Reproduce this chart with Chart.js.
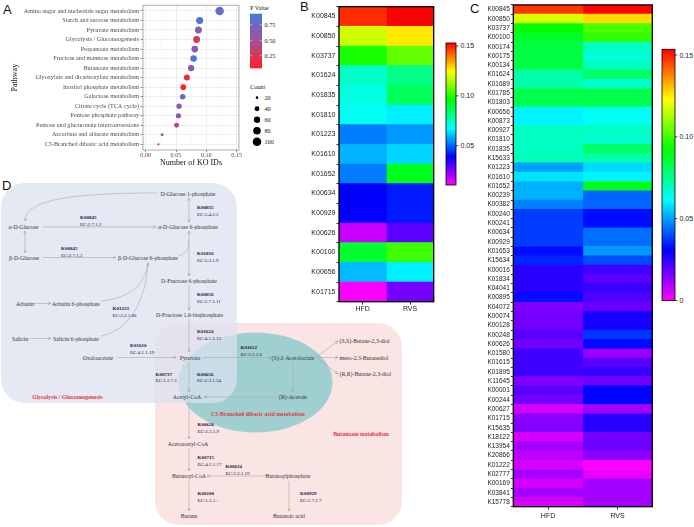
<!DOCTYPE html>
<html><head><meta charset="utf-8">
<script src="https://cdn.jsdelivr.net/npm/chart.js@4.4.1/dist/chart.umd.min.js"></script>
<style>
html,body{margin:0;padding:0;background:#fff;width:694px;height:527px;overflow:hidden;}
.box{position:absolute;z-index:1;}
#svg{position:absolute;left:0;top:0;z-index:0;}
.pl{font-family:"Liberation Sans",Arial,sans-serif;font-size:13px;fill:#111;}
.c{font-family:"Liberation Serif","Times New Roman",serif;font-size:5.8px;fill:#333;text-anchor:middle;dominant-baseline:central;}
.cl{font-family:"Liberation Serif","Times New Roman",serif;font-size:5.8px;fill:#333;dominant-baseline:central;}
.k{font-family:"Liberation Serif","Times New Roman",serif;font-size:5px;font-weight:bold;fill:#16163e;dominant-baseline:central;}
.e{font-family:"Liberation Serif","Times New Roman",serif;font-size:5px;fill:#16163e;dominant-baseline:central;}
.r{font-family:"Liberation Serif","Times New Roman",serif;font-size:5.8px;font-weight:bold;fill:#e8323c;text-anchor:middle;dominant-baseline:central;}
.ln{fill:none;stroke:#a9a9a9;stroke-width:0.6;}
.lg{font-family:"Liberation Serif","Times New Roman",serif;font-size:6.2px;fill:#222;dominant-baseline:central;}
.cb{font-family:"Liberation Sans",Arial,sans-serif;font-size:7px;fill:#222;dominant-baseline:central;}
</style></head><body>
<svg id="svg" width="694" height="527" xmlns="http://www.w3.org/2000/svg">
<defs>
<marker id="ah" markerWidth="4" markerHeight="4" refX="3.4" refY="2" orient="auto-start-reverse" markerUnits="userSpaceOnUse">
<path d="M0.3,0.6 L3.4,2 L0.3,3.4" fill="none" stroke="#999" stroke-width="0.5"/></marker>
<linearGradient id="gp" x1="0" y1="0" x2="0" y2="1"><stop offset="0" stop-color="#4a78da"/><stop offset="0.5" stop-color="#a44f9a"/><stop offset="1" stop-color="#ff2020"/></linearGradient>
<linearGradient id="grb" x1="0" y1="0" x2="0" y2="1"><stop offset="0" stop-color="#ff0000"/><stop offset="0.2" stop-color="#ffff00"/><stop offset="0.4" stop-color="#00ff00"/><stop offset="0.6" stop-color="#00ffff"/><stop offset="0.8" stop-color="#0000ff"/><stop offset="1" stop-color="#ff00ff"/></linearGradient>
</defs>
<!-- Panel letters -->
<text class="pl" x="3" y="14">A</text>
<text class="pl" x="300" y="11">B</text>
<text class="pl" x="470" y="13">C</text>
<text class="pl" x="2" y="190">D</text>

<!-- Panel D backgrounds -->
<rect x="155" y="323" width="247" height="202" rx="24" fill="#fbe4e4"/>
<ellipse cx="255.5" cy="382.5" rx="77" ry="50" fill="#9fd0cf"/>
<rect x="1" y="183" width="236" height="220" rx="24" fill="#dbe1f0" opacity="0.72"/>

<!-- lines -->
<path class="ln" d="M157,193 C70,193 25,200 25,221" marker-end="url(#ah)"/>
<path class="ln" d="M43,227 L156,227" marker-end="url(#ah)"/>
<path class="ln" d="M25,231 L25,253" marker-start="url(#ah)" marker-end="url(#ah)"/>
<path class="ln" d="M43,257.5 L116,257.5" marker-end="url(#ah)"/>
<path class="ln" d="M179,256 C186,254 189,249 189,240"/>
<path class="ln" d="M189,198 L189,222" marker-start="url(#ah)" marker-end="url(#ah)"/>
<path class="ln" d="M189,231 L189,276" marker-start="url(#ah)" marker-end="url(#ah)"/>
<path class="ln" d="M189,285 L189,310" marker-end="url(#ah)"/>
<path class="ln" d="M189,319 L189,352" marker-end="url(#ah)"/>
<path class="ln" d="M33,303.5 L51,303.5" marker-end="url(#ah)"/>
<path class="ln" d="M29,338.5 L51,338.5" marker-end="url(#ah)"/>
<path class="ln" d="M101,301 C130,298 145,285 148,263" marker-end="url(#ah)"/>
<path class="ln" d="M101,336 C130,330 146,300 148,263"/>
<path class="ln" d="M117,357.5 L176,357.5" marker-end="url(#ah)"/>
<path class="ln" d="M203,357.5 L271,357.5" marker-end="url(#ah)"/>
<path class="ln" d="M316,357.5 L338,341" marker-end="url(#ah)"/>
<path class="ln" d="M316,357.5 L338,357.5" marker-end="url(#ah)"/>
<path class="ln" d="M316,357.5 L338,374" marker-end="url(#ah)"/>
<path class="ln" d="M293,362 L293,392" marker-end="url(#ah)"/>
<path class="ln" d="M277,397 L204,397" marker-end="url(#ah)"/>
<path class="ln" d="M189,362 L189,392" marker-end="url(#ah)"/>
<path class="ln" d="M189,401 L189,439" marker-end="url(#ah)"/>
<path class="ln" d="M189,448 L189,471" marker-end="url(#ah)"/>
<path class="ln" d="M266,476 L207,476" marker-end="url(#ah)"/>
<path class="ln" d="M189,481 L189,511" marker-end="url(#ah)"/>
<path class="ln" d="M289,481 L289,511" marker-end="url(#ah)"/>

<!-- compounds -->
<text class="c" x="188" y="194">D-Glucose 1-phosphate</text>
<text class="c" x="23.5" y="227">α-D-Glucose</text>
<text class="c" x="188" y="227">α-D-Glucose 6-phosphate</text>
<text class="c" x="24" y="258">β-D-Glucose</text>
<text class="c" x="148" y="258">β-D-Glucose 6-phosphate</text>
<text class="c" x="189" y="281">D-Fructose 6-phosphate</text>
<text class="c" x="25" y="303.5">Arbutin</text>
<text class="c" x="76" y="303.5">Arbutin 6-phosphate</text>
<text class="c" x="189.5" y="315">D-Fructose 1,6-bisphosphate</text>
<text class="c" x="20" y="338.5">Salicin</text>
<text class="c" x="76" y="338.5">Salicin 6-phosphate</text>
<text class="c" x="98" y="357.5">Oxaloacetate</text>
<text class="c" x="190" y="357.5">Pyruvate</text>
<text class="c" x="293" y="357.5">(S)-2-Acetolactate</text>
<text class="cl" x="339.5" y="341">(S,S)-Butane-2,3-diol</text>
<text class="cl" x="339.5" y="357.5">meso-2,3-Butanediol</text>
<text class="cl" x="339.5" y="374">(R,R)-Butane-2,3-diol</text>
<text class="c" x="187" y="397">Acetyl-CoA</text>
<text class="c" x="293" y="397">(R)-Acetoin</text>
<text class="c" x="188" y="444">Acetoacetyl-CoA</text>
<text class="c" x="189" y="476">Butanoyl-CoA</text>
<text class="c" x="288" y="476">Butanoylphosphate</text>
<text class="c" x="189" y="516">Butane</text>
<text class="c" x="289" y="516">Butanoic acid</text>

<!-- enzymes -->
<text class="k" x="197" y="207">K00835</text><text class="e" x="197" y="214">EC:5.4.2.2</text>
<text class="k" x="80" y="217">K00845</text><text class="e" x="80" y="224">EC:2.7.1.2</text>
<text class="k" x="61" y="248">K00845</text><text class="e" x="61" y="255">EC:2.7.1.2</text>
<text class="k" x="197" y="253">K01810</text><text class="e" x="197" y="260">EC:5.3.1.9</text>
<text class="k" x="197" y="294">K00850</text><text class="e" x="197" y="301.5">EC:2.7.1.11</text>
<text class="k" x="112.5" y="308.5">K01223</text><text class="e" x="112.5" y="315.5">EC:3.2.1.86</text>
<text class="k" x="197" y="331">K01624</text><text class="e" x="197" y="338">EC:4.1.2.13</text>
<text class="k" x="130" y="345">K01610</text><text class="e" x="130" y="352">EC:4.1.1.19</text>
<text class="k" x="240.5" y="347">K01652</text><text class="e" x="240.5" y="354.5">EC:2.2.1.6</text>
<text class="k" x="155.5" y="374">K00737</text><text class="e" x="155.5" y="380.5">EC:1.2.7.1</text>
<text class="k" x="197" y="374">K00656</text><text class="e" x="197" y="380.5">EC:2.3.1.54</text>
<text class="k" x="197.5" y="424">K00626</text><text class="e" x="197.5" y="431">EC:2.3.1.9</text>
<text class="k" x="197.5" y="457">K00715</text><text class="e" x="197.5" y="464">EC:4.2.1.17</text>
<text class="k" x="225.5" y="466">K00634</text><text class="e" x="225.5" y="473">EC:2.3.1.19</text>
<text class="k" x="197.5" y="493">K00100</text><text class="e" x="197.5" y="500">EC:1.1.1.-</text>
<text class="k" x="300" y="493">K00929</text><text class="e" x="300" y="500">EC:2.7.2.7</text>

<text class="r" x="67.5" y="396.5">Glycolysis / Gluconeogenesis</text>
<text class="r" x="258" y="413.5">C5-Branched dibasic acid metabolism</text>
<text class="r" x="361" y="434">Butanoate metabolism</text>

<g id="legends"></g>
</svg>

<div class="box" style="left:0;top:0;width:245px;height:168px;"><canvas id="cA"></canvas></div>
<div class="box" style="left:290px;top:0;width:150px;height:320px;"><canvas id="cB"></canvas></div>
<div class="box" style="left:450px;top:0;width:210px;height:527px;"><canvas id="cC"></canvas></div>

<script>
// ---------- DATA ----------
const pathways = ["Amino sugar and nucleotide sugar metabolism","Starch and sucrose metabolism","Pyruvate metabolism","Glycolysis / Gluconeogenesis","Propanoate metabolism","Fructose and mannose metabolism","Butanoate metabolism","Glyoxylate and dicarboxylate metabolism","Inositol phosphate metabolism","Galactose metabolism","Citrate cycle (TCA cycle)","Pentose phosphate pathway","Pentose and glucuronate interconversions","Ascorbate and aldarate metabolism","C5-Branched dibasic acid metabolism"];
const koRatio = [0.122,0.089,0.087,0.084,0.081,0.079,0.075,0.068,0.062,0.061,0.055,0.054,0.051,0.027,0.021];
const pValue  = [0.80,0.93,0.62,0.25,0.60,0.92,0.58,0.15,0.06,0.78,0.60,0.60,0.42,0.55,0.10];
const koCount = [98,71,70,67,65,63,60,54,49,48,44,43,41,21,17];
const koTicks = [0.00,0.05,0.10,0.15];
const pTicks = [0.25,0.50,0.75];
const countTicks = [20,40,60,80,100];

const groups = ["HFD","RVS"];
const bGenes = ["K00845","K00850","K03737","K01624","K01835","K01810","K01223","K01610","K01652","K00634","K00929","K00626","K00100","K00656","K01715"];
const bHFD = [0.148,0.119,0.099,0.074,0.071,0.069,0.053,0.059,0.053,0.039,0.039,0.017,0.091,0.060,0.011];
const bRVS = [0.153,0.127,0.107,0.081,0.086,0.066,0.056,0.063,0.093,0.042,0.042,0.029,0.103,0.066,0.026];
const bTicks = [0.05,0.10,0.15];

const cGenes = ["K00845","K00850","K03737","K00100","K00174","K00175","K00134","K01624","K01689","K01785","K01803","K00656","K00873","K00927","K01810","K01835","K15633","K01223","K01610","K01652","K00239","K00382","K00240","K00241","K00634","K00929","K01653","K15634","K00016","K01834","K04041","K00895","K04072","K00074","K00128","K00248","K00626","K01580","K01615","K01895","K11645","K00001","K00244","K00627","K01715","K15635","K18122","K13954","K20866","K01222","K02777","K00169","K03841","K15778"];
const cHFD = [0.147,0.118,0.092,0.087,0.084,0.084,0.084,0.072,0.072,0.083,0.083,0.060,0.060,0.069,0.069,0.069,0.070,0.050,0.058,0.052,0.052,0.046,0.038,0.038,0.038,0.038,0.032,0.035,0.026,0.026,0.026,0.032,0.015,0.017,0.017,0.020,0.017,0.023,0.023,0.023,0.015,0.020,0.017,0.005,0.014,0.015,0.005,0.011,0.008,0.005,0.011,0.005,0.011,0.005];
const cRVS = [0.153,0.127,0.101,0.098,0.069,0.066,0.069,0.080,0.067,0.083,0.083,0.063,0.063,0.069,0.067,0.080,0.072,0.057,0.060,0.089,0.043,0.043,0.032,0.032,0.044,0.044,0.049,0.040,0.023,0.020,0.024,0.021,0.018,0.028,0.028,0.037,0.032,0.012,0.020,0.024,0.017,0.031,0.031,0.011,0.026,0.026,0.017,0.018,0.014,0.000,0.002,0.011,0.011,0.011];
const cTicks = [0,0.05,0.10,0.15];

// ---------- colour / size scales ----------
const pDomain = [0.047, 0.93];
const bDomain = [0.0107, 0.153];
const cDomain = [0, 0.1535];
function pColor(p){
  let t=(p-pDomain[0])/(pDomain[1]-pDomain[0]); t=Math.max(0,Math.min(1,t));
  const lo=[255,32,32], mid=[164,79,154], hi=[74,120,218];
  let a,b,u; if(t<0.5){a=lo;b=mid;u=t/0.5;}else{a=mid;b=hi;u=(t-0.5)/0.5;}
  return `rgb(${a.map((v,i)=>Math.round(v+(b[i]-v)*u)).join(',')})`;
}
const rainbow=[[0,[255,0,255]],[0.2,[0,0,255]],[0.4,[0,255,255]],[0.6,[0,255,0]],[0.8,[255,255,0]],[1,[255,0,0]]];
function heatColor(v,dom){
  let t=(v-dom[0])/(dom[1]-dom[0]); t=Math.max(0,Math.min(1,t));
  for(let i=1;i<rainbow.length;i++){
    if(t<=rainbow[i][0]){const [t0,c0]=rainbow[i-1],[t1,c1]=rainbow[i];const u=(t-t0)/(t1-t0);
      return `rgb(${c0.map((c,j)=>Math.round(c+(c1[j]-c)*u)).join(',')})`;}
  }
  return 'rgb(255,0,0)';
}
function sizeR(n){return Math.sqrt(1.21+(n-17)*0.2082);}

Chart.defaults.font.family='"Liberation Serif","Times New Roman",serif';
Chart.defaults.animation=false;

const frame = {id:'frame',afterDatasetsDraw(ch,args,o){const a=ch.chartArea,x=ch.ctx;x.save();x.strokeStyle=o.color||'#000';x.lineWidth=o.width||1;x.strokeRect(a.left,a.top,a.right-a.left,a.bottom-a.top);x.restore();}};

// ---------- Panel A ----------
new Chart(document.getElementById('cA'),{
  type:'bubble',
  data:{datasets:[{data:pathways.map((p,i)=>({x:koRatio[i],y:i,r:sizeR(koCount[i])})),
    backgroundColor:pValue.map(pColor),borderWidth:0,hoverRadius:0}]},
  options:{responsive:true,maintainAspectRatio:false,
    layout:{padding:{top:3,right:6,left:0,bottom:0}},
    plugins:{legend:{display:false},tooltip:{enabled:false},frame:{color:'#8a8a8a',width:0.7}},
    scales:{
      x:{type:'linear',min:-0.0045,max:0.154,
        afterBuildTicks:s=>{s.ticks=[0,0.025,0.05,0.075,0.1,0.125,0.15].map(v=>({value:v}));},
        afterFit:s=>{s.height=18;},
        ticks:{autoSkip:false,maxRotation:0,padding:0,color:'#4d4d4d',font:{size:6.2},
          callback:v=>koTicks.some(t=>Math.abs(t-v)<1e-9)?v.toFixed(2):''},
        grid:{color:c=>koTicks.some(t=>Math.abs(t-c.tick.value)<1e-9)?'#e6e6e6':'#f3f3f3',
          lineWidth:c=>koTicks.some(t=>Math.abs(t-c.tick.value)<1e-9)?0.7:0.4,
          tickLength:2,tickColor:c=>koTicks.some(t=>Math.abs(t-c.tick.value)<1e-9)?'#444':'rgba(0,0,0,0)',tickWidth:0.6},
        border:{display:false},
        title:{display:true,text:'Number of KO IDs',color:'#111',font:{size:8},padding:{top:0,bottom:0}}},
      y:{type:'linear',min:-0.6,max:14.6,reverse:true,
        afterBuildTicks:s=>{s.ticks=pathways.map((p,i)=>({value:i}));},
        afterFit:s=>{s.width=143;},
        ticks:{autoSkip:false,padding:1.5,color:'#4d4d4d',font:{size:6.2},callback:v=>pathways[v]},
        grid:{color:'#e6e6e6',lineWidth:0.7,tickLength:2.5,tickColor:'#444',tickWidth:0.6},
        border:{display:false},
        title:{display:true,text:'Pathway',color:'#111',font:{size:8},padding:{top:10,bottom:0}}}
    }},
  plugins:[frame]
});

// ---------- Heatmaps ----------
function heat(id,genes,hfd,rvs,dom,fs,yW,padT,padR,xH,xPad){
  new Chart(document.getElementById(id),{
    type:'bar',
    data:{labels:genes,datasets:[
      {label:groups[0],data:hfd.map(()=>[0,1]),backgroundColor:hfd.map(v=>heatColor(v,dom)),borderWidth:0,grouped:false,barPercentage:1,categoryPercentage:1},
      {label:groups[1],data:rvs.map(()=>[1,2]),backgroundColor:rvs.map(v=>heatColor(v,dom)),borderWidth:0,grouped:false,barPercentage:1,categoryPercentage:1}]},
    options:{indexAxis:'y',responsive:true,maintainAspectRatio:false,
      layout:{padding:{top:padT,right:padR,left:0,bottom:0}},
      plugins:{legend:{display:false},tooltip:{enabled:false},frame:{color:'#000',width:1.3}},
      scales:{
        y:{type:'category',afterFit:s=>{s.width=yW;},
          ticks:{autoSkip:false,padding:1,color:'#222',font:{family:'"Liberation Sans",Arial,sans-serif',size:fs}},
          grid:{drawOnChartArea:false,tickLength:2.5,tickColor:'#000',tickWidth:0.8},border:{display:false}},
        x:{type:'linear',min:0,max:2,afterFit:s=>{s.height=xH;},
          afterBuildTicks:s=>{s.ticks=groups.map((g,i)=>({value:i+0.5}));},
          ticks:{autoSkip:false,maxRotation:0,padding:xPad,color:'#222',font:{family:'"Liberation Sans",Arial,sans-serif',size:7},
            callback:v=>groups[Math.round(v-0.5)]},
          grid:{drawOnChartArea:false,tickLength:3,tickColor:'#000',tickWidth:0.8},border:{display:false}}
      }},
    plugins:[frame]
  });
}
heat('cB',bGenes,bHFD,bRVS,bDomain,7,49,6.7,6.3,18.3,0);
heat('cC',cGenes,cHFD,cRVS,cDomain,6.5,63.3,3.3,7.7,20.3,2);

// ---------- legends (SVG) ----------
const NS='http://www.w3.org/2000/svg';
const g=document.getElementById('legends');
function el(tag,attrs,text){const e=document.createElementNS(NS,tag);for(const k in attrs)e.setAttribute(k,attrs[k]);if(text!==undefined)e.textContent=text;g.appendChild(e);return e;}
// P value colourbar
el('text',{class:'lg',x:250,y:7.5},'P Value');
const pTop=13.7,pBot=68.3;
el('rect',{x:250,y:pTop,width:12,height:pBot-pTop,fill:'url(#gp)'});
pTicks.forEach(v=>{const y=pBot-(v-pDomain[0])/(pDomain[1]-pDomain[0])*(pBot-pTop);
  el('line',{x1:250,x2:252.5,y1:y,y2:y,stroke:'#fff','stroke-width':0.5});
  el('line',{x1:259.5,x2:262,y1:y,y2:y,stroke:'#fff','stroke-width':0.5});
  el('text',{class:'lg',x:264.5,y:y},v.toFixed(2));});
// Count legend
el('text',{class:'lg',x:250,y:86.7},'Count');
countTicks.forEach((n,i)=>{const y=97.7+i*11;
  el('circle',{cx:257,cy:y,r:sizeR(n),fill:'#000'});
  el('text',{class:'lg',x:264.5,y:y},String(n));});
// rainbow colourbars
function cbar(x,top,bot,dom,ticks,w){
  el('rect',{x:x,y:top,width:w,height:bot-top,fill:'url(#grb)',stroke:'#000','stroke-width':0.8});
  ticks.forEach(v=>{const y=bot-(v-dom[0])/(dom[1]-dom[0])*(bot-top);
    el('line',{x1:x+w,x2:x+w+2.5,y1:y,y2:y,stroke:'#000','stroke-width':0.7});
    el('text',{class:'cb',x:x+w+4.5,y:y},v===0?'0':v.toFixed(2));});
}
cbar(446,43,185,bDomain,bTicks,10);
cbar(662,49.3,300.5,cDomain,cTicks,13);
</script>
</body></html>
